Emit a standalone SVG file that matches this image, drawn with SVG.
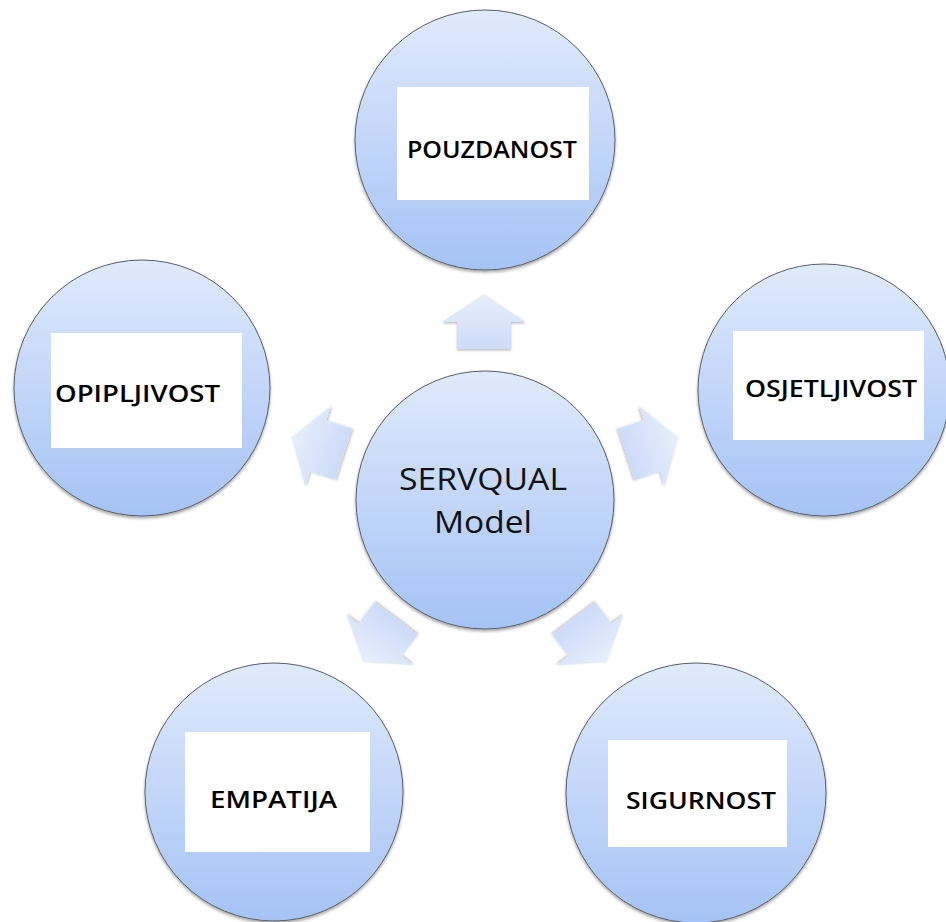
<svg xmlns="http://www.w3.org/2000/svg" width="946" height="922" viewBox="0 0 946 922">
  <defs>
    <linearGradient id="gCircle" x1="0" y1="0" x2="0" y2="1">
      <stop offset="0" stop-color="#e0eafc"/>
      <stop offset="1" stop-color="#a5c3f6"/>
    </linearGradient>
    <linearGradient id="gArrow" x1="0" y1="0" x2="0" y2="1">
      <stop offset="0" stop-color="#e8effc"/>
      <stop offset="1" stop-color="#cddbf8"/>
    </linearGradient>
    <filter id="shadow" x="-20%" y="-20%" width="140%" height="140%">
      <feDropShadow dx="0" dy="2" stdDeviation="1.8" flood-color="#000" flood-opacity="0.35"/>
    </filter>
    <filter id="ashadow" x="-30%" y="-30%" width="160%" height="160%">
      <feDropShadow dx="0" dy="1.5" stdDeviation="1.2" flood-color="#000" flood-opacity="0.25"/>
    </filter>
    <path id="arrowShape" d="M0,-28 L42,0 L27,0 L27,27 L-27,27 L-27,0 L-42,0 Z"/>
  </defs>
  <style>
    .circle { fill: url(#gCircle); stroke: #5a5f66; stroke-width: 1; filter: url(#shadow); }
    .box { fill: #ffffff; }
    .label { font-family: "Open Sans", "Liberation Sans", sans-serif; font-weight: 600; font-size: 23px; fill: #000; }
    .center { font-family: "Open Sans", "Liberation Sans", sans-serif; font-weight: 400; font-size: 31px; fill: #111; }
    .arrow { fill: url(#gArrow); filter: url(#ashadow); }
  </style>
  <rect width="946" height="922" fill="#ffffff"/>

  <g id="connectors">
    <use href="#arrowShape" class="arrow" transform="translate(484,322)"/>
    <use href="#arrowShape" class="arrow" transform="translate(318,446) rotate(-72)"/>
    <use href="#arrowShape" class="arrow" transform="translate(652,446) rotate(72)"/>
    <use href="#arrowShape" class="arrow" transform="translate(380,640) rotate(-143)"/>
    <use href="#arrowShape" class="arrow" transform="translate(590,640) rotate(143)"/>
  </g>

  <g id="node-center">
    <circle class="circle" cx="485" cy="500" r="129"/>
    <text class="center" x="399" y="490" textLength="168" lengthAdjust="spacingAndGlyphs">SERVQUAL</text>
    <text class="center" x="434" y="533" textLength="98" lengthAdjust="spacingAndGlyphs">Model</text>
  </g>

  <g id="node-pouzdanost">
    <circle class="circle" cx="485" cy="140" r="130"/>
    <rect class="box" x="397" y="87" width="192" height="113"/>
    <text class="label" x="407" y="158" textLength="170" lengthAdjust="spacingAndGlyphs">POUZDANOST</text>
  </g>

  <g id="node-opipljivost">
    <circle class="circle" cx="142" cy="388" r="128"/>
    <rect class="box" x="51" y="333" width="191" height="115"/>
    <text class="label" x="55" y="402" textLength="165" lengthAdjust="spacingAndGlyphs">OPIPLJIVOST</text>
  </g>

  <g id="node-osjetljivost">
    <circle class="circle" cx="824" cy="390" r="126"/>
    <rect class="box" x="733" y="331" width="191" height="109"/>
    <text class="label" x="745" y="397" textLength="172" lengthAdjust="spacingAndGlyphs">OSJETLJIVOST</text>
  </g>

  <g id="node-empatija">
    <circle class="circle" cx="274" cy="792" r="129"/>
    <rect class="box" x="185" y="732" width="185" height="120"/>
    <text class="label" x="210" y="808" textLength="127" lengthAdjust="spacingAndGlyphs">EMPATIJA</text>
  </g>

  <g id="node-sigurnost">
    <circle class="circle" cx="696" cy="793" r="130"/>
    <rect class="box" x="608" y="740" width="179" height="107"/>
    <text class="label" x="626" y="809" textLength="150" lengthAdjust="spacingAndGlyphs">SIGURNOST</text>
  </g>
</svg>
